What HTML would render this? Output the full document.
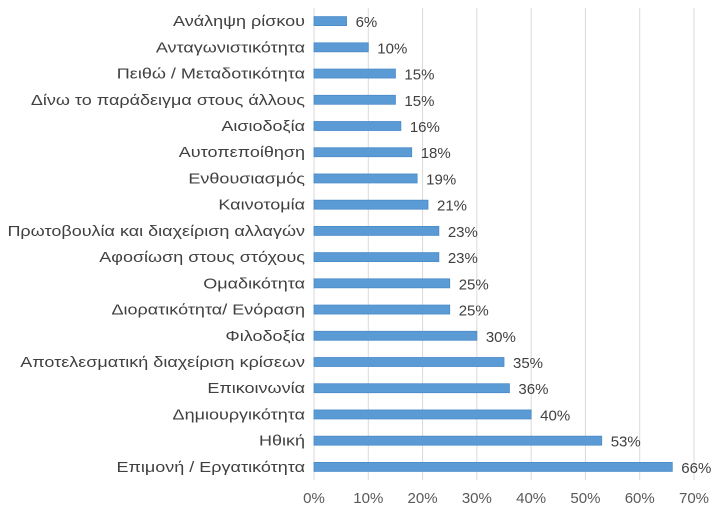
<!DOCTYPE html>
<html><head><meta charset="utf-8"><style>
body{margin:0;background:#fff;}
svg{display:block;font-family:"Liberation Sans",sans-serif;}
</style></head><body>
<svg id="chart" width="728" height="515" viewBox="0 0 728 515"></svg>
<script>
const categories=["Ανάληψη ρίσκου","Ανταγωνιστικότητα","Πειθώ / Μεταδοτικότητα","Δίνω το παράδειγμα στους άλλους","Αισιοδοξία","Αυτοπεποίθηση","Ενθουσιασμός","Καινοτομία","Πρωτοβουλία και διαχείριση αλλαγών","Αφοσίωση στους στόχους","Ομαδικότητα","Διορατικότητα/ Ενόραση","Φιλοδοξία","Αποτελεσματική διαχείριση κρίσεων","Επικοινωνία","Δημιουργικότητα","Ηθική","Επιμονή / Εργατικότητα"];
const values=[6,10,15,15,16,18,19,21,23,23,25,25,30,35,36,40,53,66];
const ticks=[0,10,20,30,40,50,60,70];
const NS="http://www.w3.org/2000/svg";
const svg=document.getElementById('chart');
const x0=314,x1=694,xmax=70,yTop=8,yBot=480;
function xs(v){return x0+(x1-x0)*v/xmax;}
const pitch=(yBot-yTop)/categories.length;
function yc(i){return yTop+pitch*(i+0.5);}
function mk(t,a,txt){const e=document.createElementNS(NS,t);for(const k in a)e.setAttribute(k,a[k]);if(txt!==undefined)e.textContent=txt;svg.appendChild(e);return e;}
ticks.forEach(t=>{
  const g=mk('line',{x1:xs(t),x2:xs(t),y1:yTop,y2:yBot,stroke:'#d9d9d9','stroke-width':1});
  
  
  const l=mk('text',{x:xs(t),y:503,'text-anchor':'middle','font-size':15,fill:'#595959'},t+'%');
  
  
});
categories.forEach((c,i)=>{
  const y=yc(i);
  const lab=mk('text',{x:305,y:y+5,'text-anchor':'end','font-size':15,fill:'#404040'},c);
  
  
  const w=lab.getComputedTextLength();
  if(w>0){lab.setAttribute('textLength',w*1.2);lab.setAttribute('lengthAdjust','spacingAndGlyphs');}
  const b=mk('rect',{x:x0,y:y-4.5,width:xs(values[i])-x0,height:9,fill:'#5b9bd5',stroke:'#4a8ac8','stroke-width':0.8});
  
  
  const v=mk('text',{x:xs(values[i])+9,y:y+6,'font-size':15,fill:'#404040'},values[i]+'%');
  
  
});
</script>
</body></html>
